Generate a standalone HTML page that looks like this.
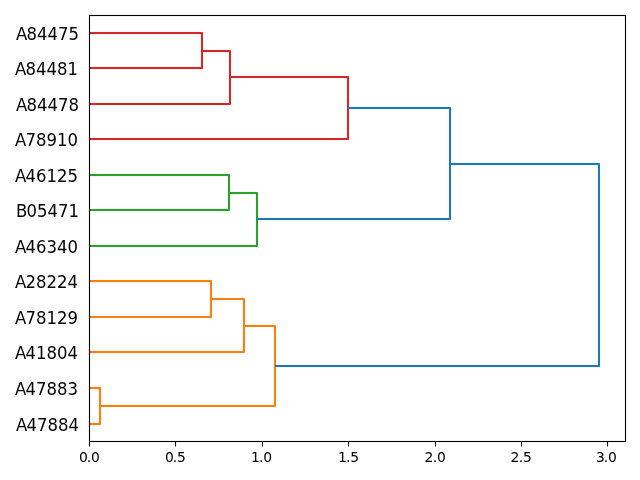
<!DOCTYPE html>
<html lang="en">
<head>
<meta charset="utf-8">
<title>Dendrogram</title>
<style>
  html, body { margin: 0; padding: 0; background: #ffffff; }
  body { width: 640px; height: 480px; overflow: hidden; }
  svg { display: block; }
  .lbl { font-family: "DejaVu Sans", "Liberation Sans", sans-serif; fill: #000000; filter: grayscale(1); }
  .yl { font-size: 16.5px; text-anchor: end; }
  .xl { font-size: 13.889px; text-anchor: middle; }
  .link polyline { fill: none; stroke-width: 2.0833; stroke-linejoin: round; stroke-linecap: butt; }
  .link .h { stroke: none; }
  .c0 polyline { stroke: #1f77b4; } .c0 .h { fill: #1f77b4; }
  .c1 polyline { stroke: #ff7f0e; } .c1 .h { fill: #ff7f0e; }
  .c2 polyline { stroke: #2ca02c; } .c2 .h { fill: #2ca02c; }
  .c3 polyline { stroke: #d62728; } .c3 .h { fill: #d62728; }
  .tick { stroke: #000000; stroke-width: 1.1111; stroke-linecap: butt; fill: none; }
  .spine { stroke: #000000; stroke-width: 1.1111; stroke-linejoin: miter; fill: none; }
</style>
</head>
<body>
<svg width="640" height="480" viewBox="0 0 640 480">
  <rect x="0" y="0" width="640" height="480" fill="#ffffff"/>

  <!-- dendrogram links (orange, green, red clusters; blue above colour threshold) -->
  <g class="link c1">
    <rect class="h" x="89" y="386.9583" width="11" height="2.0833"/>
    <rect class="h" x="89" y="422.9583" width="11" height="2.0833"/>
    <polyline points="89,388 100,388 100,424 89,424"/>
    <rect class="h" x="89" y="279.9583" width="122" height="2.0833"/>
    <rect class="h" x="89" y="315.9583" width="122" height="2.0833"/>
    <polyline points="89,281 211,281 211,317 89,317"/>
    <rect class="h" x="89" y="350.9583" width="155" height="2.0833"/>
    <rect class="h" x="211" y="297.9583" width="33" height="2.0833"/>
    <polyline points="89,352 244,352 244,299 211,299"/>
    <rect class="h" x="100" y="404.9583" width="175" height="2.0833"/>
    <rect class="h" x="244" y="324.9583" width="31" height="2.0833"/>
    <polyline points="100,406 275,406 275,326 244,326"/>
  </g>
  <g class="link c2">
    <rect class="h" x="89" y="173.9583" width="140" height="2.0833"/>
    <rect class="h" x="89" y="208.9583" width="140" height="2.0833"/>
    <polyline points="89,175 229,175 229,210 89,210"/>
    <rect class="h" x="89" y="244.9583" width="168" height="2.0833"/>
    <rect class="h" x="229" y="191.9583" width="28" height="2.0833"/>
    <polyline points="89,246 257,246 257,193 229,193"/>
  </g>
  <g class="link c3">
    <rect class="h" x="89" y="31.9583" width="113" height="2.0833"/>
    <rect class="h" x="89" y="66.9583" width="113" height="2.0833"/>
    <polyline points="89,33 202,33 202,68 89,68"/>
    <rect class="h" x="89" y="102.9583" width="141" height="2.0833"/>
    <rect class="h" x="202" y="49.9584" width="28" height="2.0833"/>
    <polyline points="89,104 230,104 230,51 202,51"/>
    <rect class="h" x="89" y="137.9583" width="259" height="2.0833"/>
    <rect class="h" x="230" y="75.9583" width="118" height="2.0833"/>
    <polyline points="89,139 348,139 348,77 230,77"/>
  </g>
  <g class="link c0">
    <rect class="h" x="257" y="217.9583" width="193" height="2.0833"/>
    <rect class="h" x="348" y="106.9583" width="102" height="2.0833"/>
    <polyline points="257,219 450,219 450,108 348,108"/>
    <rect class="h" x="275" y="364.9583" width="324" height="2.0833"/>
    <rect class="h" x="450" y="162.9583" width="149" height="2.0833"/>
    <polyline points="275,366 599,366 599,164 450,164"/>
  </g>

  <!-- x axis ticks -->
  <g class="tick">
    <line x1="89.5" y1="441.5" x2="89.5" y2="446.5"/>
    <line x1="175.5" y1="441.5" x2="175.5" y2="446.5"/>
    <line x1="262.5" y1="441.5" x2="262.5" y2="446.5"/>
    <line x1="348.5" y1="441.5" x2="348.5" y2="446.5"/>
    <line x1="435.5" y1="441.5" x2="435.5" y2="446.5"/>
    <line x1="521.5" y1="441.5" x2="521.5" y2="446.5"/>
    <line x1="607.5" y1="441.5" x2="607.5" y2="446.5"/>
  </g>

  <!-- axes frame -->
  <rect class="spine" x="89.5" y="15.5" width="536" height="426"/>

  <!-- leaf labels -->
  <g class="lbl yl">
    <text transform="translate(79,40) scale(1,1.04)" dx="0 -0.75">A84475</text>
    <text transform="translate(78,75) scale(1,1.04)" dx="0 -0.75">A84481</text>
    <text transform="translate(79,111) scale(1,1.04)" dx="0 -0.75">A84478</text>
    <text transform="translate(78,146) scale(1,1.04)" dx="0 -0.75">A78910</text>
    <text transform="translate(78,182) scale(1,1.04)" dx="0 -0.75">A46125</text>
    <text transform="translate(79,217) scale(1,1.04)" dx="0 -0.75">B05471</text>
    <text transform="translate(78,253) scale(1,1.04)" dx="0 -0.75">A46340</text>
    <text transform="translate(78,288) scale(1,1.04)" dx="0 -0.75">A28224</text>
    <text transform="translate(78,324) scale(1,1.04)" dx="0 -0.75">A78129</text>
    <text transform="translate(78,359) scale(1,1.04)" dx="0 -0.75">A41804</text>
    <text transform="translate(78,395) scale(1,1.04)" dx="0 -0.75">A47883</text>
    <text transform="translate(79,431) scale(1,1.04)" dx="0 -0.75">A47884</text>
  </g>

  <!-- x tick labels -->
  <g class="lbl xl">
    <text transform="translate(89.345,462)" dx="0 -1.0 -0.25">0.0</text>
    <text transform="translate(175.37,462)" dx="0 -1.0 -0.25">0.5</text>
    <text transform="translate(261.52,462)" dx="0 -0.875 -0.25">1.0</text>
    <text transform="translate(348.545,462)" dx="0 -0.875 -0.25">1.5</text>
    <text transform="translate(435.195,462)" dx="0 -0.625 -0.25">2.0</text>
    <text transform="translate(521.095,462)" dx="0 -0.5 -0.25">2.5</text>
    <text transform="translate(606.37,462)" dx="0 -1.0 -0.25">3.0</text>
  </g>
</svg>
</body>
</html>
